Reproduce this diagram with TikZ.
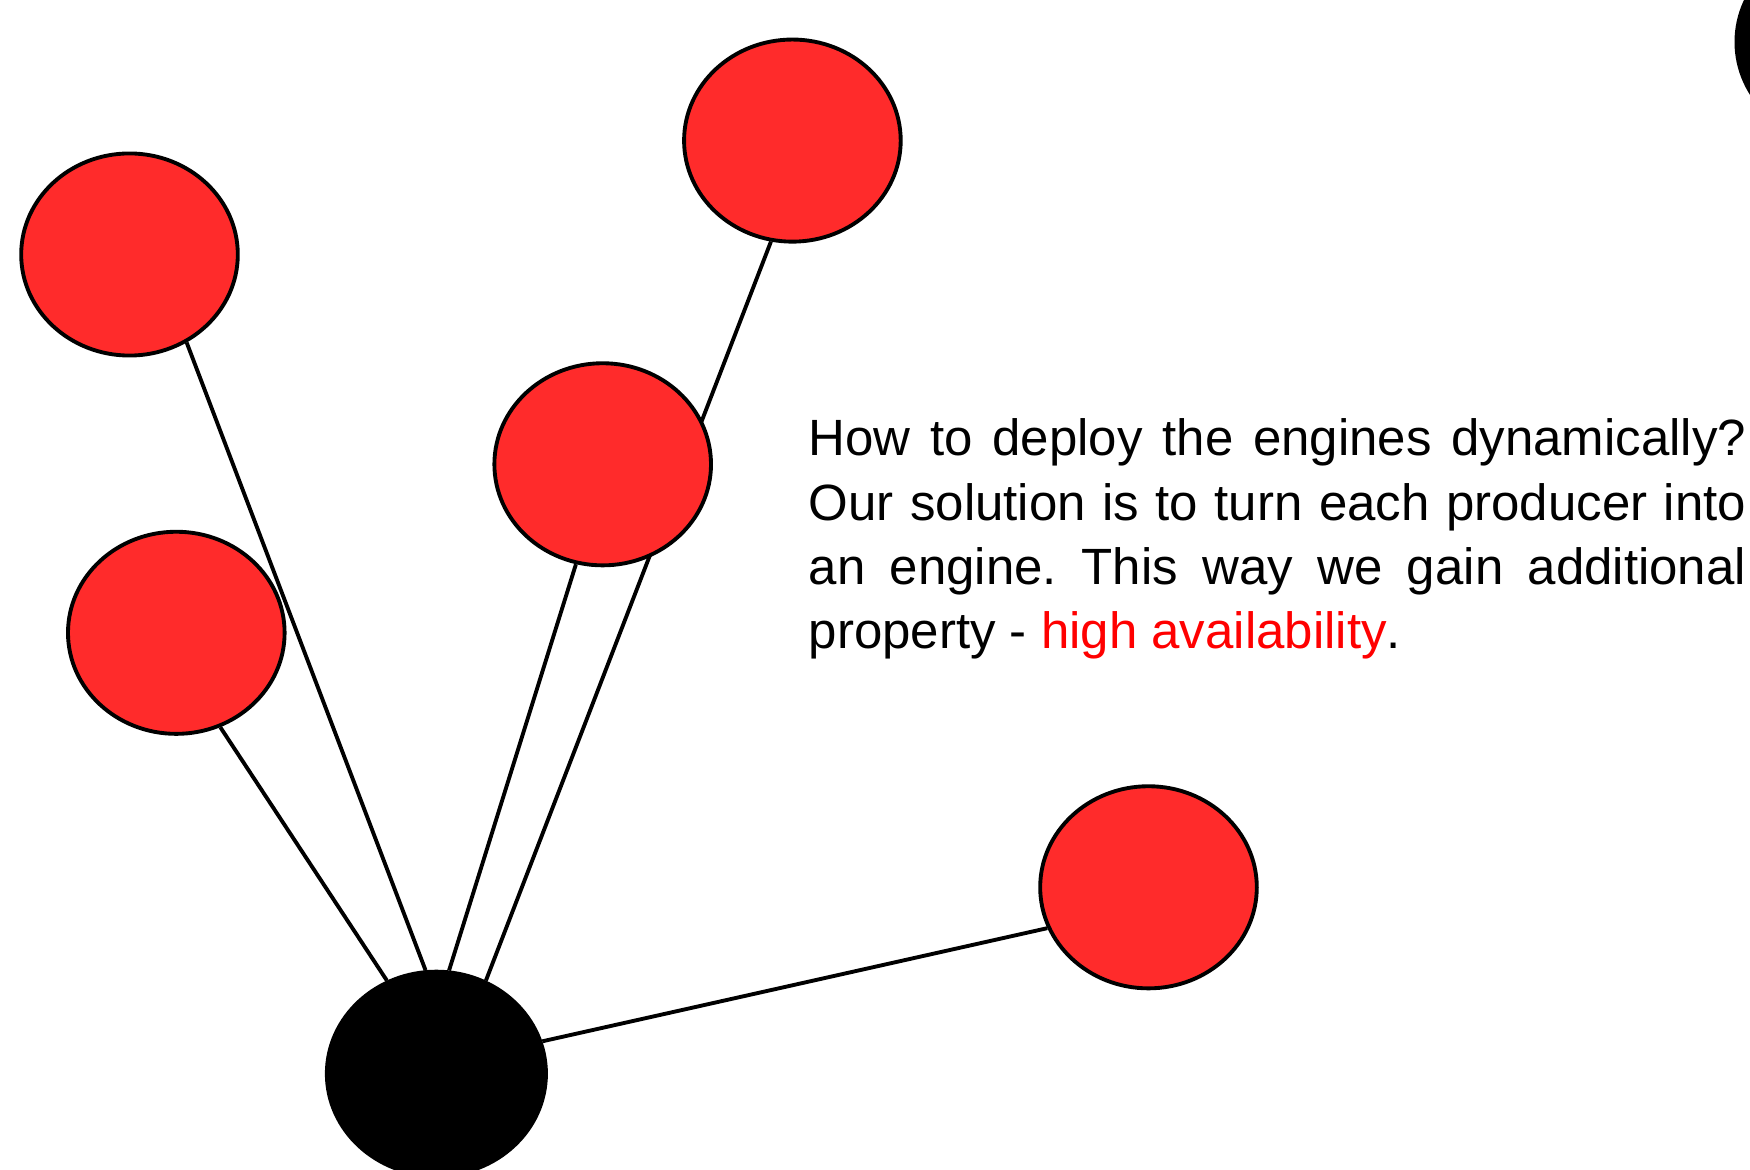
\documentclass[tikz,border=0pt]{standalone}
\usepackage{fontspec}
\setmainfont{Liberation Sans}
\usetikzlibrary{shapes.geometric,backgrounds}
\definecolor{nodered}{RGB}{255,43,43}
\definecolor{textred}{RGB}{255,0,0}
\frenchspacing
\begin{document}
\begin{tikzpicture}[x=0.01cm,y=-0.01cm,
  engine/.style={ellipse,draw=black,line width=1.1pt,fill=nodered,minimum width=2.165cm,minimum height=2.02cm,inner sep=0pt},
  hub/.style={ellipse,fill=black,draw=black,line width=1.1pt,minimum width=2.19cm,minimum height=2.04cm,inner sep=0pt},
  link/.style={line width=1.1pt,black}]
\useasboundingbox (0,0) rectangle (1750,1170);
\node[engine] (r1) at (129.5,254.5) {};
\node[engine] (r2) at (792.4,140.6) {};
\node[engine] (r3) at (602.7,464.3) {};
\node[engine] (r4) at (176.3,632.8) {};
\node[engine] (r5) at (1148.5,887.3) {};
\node[hub] (b) at (436.4,1073.7) {};
\node[hub] (tr) at (1846,42) {};
\begin{pgfonlayer}{background}
\draw[link] (r1.-57.5) -- (b.96.2);
\draw[link] (r4.-65.5) -- (b.118.5);
\draw[link] (r3.-105.7) -- (b.83.6);
\draw[link] (r2.-102.6) -- (b.62.9);
\draw[link] (r5.202.6) -- (b.17.9);
\end{pgfonlayer}
\node[anchor=north west,inner sep=0pt,text width=9.37cm,align=justify,
  font=\fontsize{14.5pt}{18.3pt}\selectfont] (txt) at (808,418)
  {How to deploy the engines dynamically? Our solution is to turn each producer into an engine. This way we gain additional property - \textcolor{textred}{high availability}.};
\end{tikzpicture}
\end{document}
